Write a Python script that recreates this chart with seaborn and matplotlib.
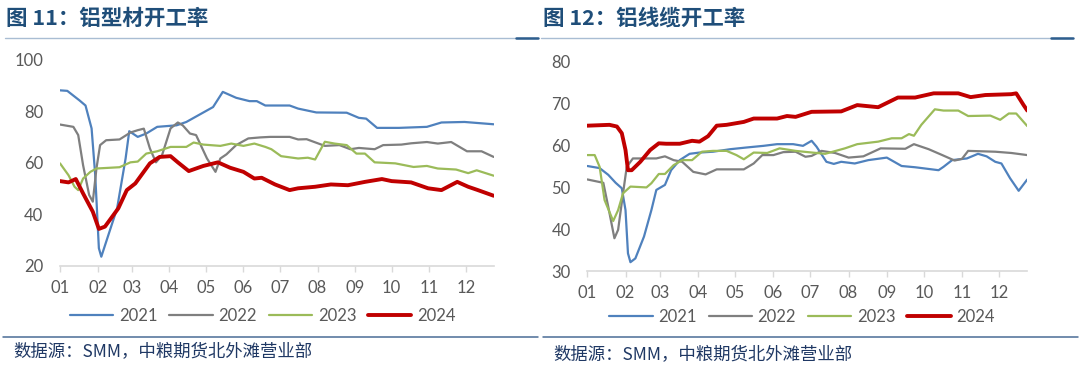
import matplotlib
matplotlib.use("Agg")
import matplotlib.pyplot as plt
from matplotlib.lines import Line2D
import seaborn as sns
import pandas as pd

# ---------------- data (day of year, value) ----------------
years = ["2021", "2022", "2023", "2024"]
month_start_days = [0, 31, 59, 90, 120, 151, 181, 212, 243, 273, 304, 334]
month_labels = ["01", "02", "03", "04", "05", "06", "07", "08", "09", "10", "11", "12"]

# 图11 铝型材开工率
prof_2021_day = [0, 6, 16, 21, 26, 29, 32, 34, 38, 47, 54, 57, 64, 71, 80, 96, 104, 115, 126, 134,
                 145, 156, 162, 169, 189, 196, 211, 236, 246, 252, 261, 279, 302, 314, 333, 357]
prof_2021_val = [88.2, 88, 84.3, 82.3, 73.4, 55.2, 26.8, 23.5, 29.3, 42.3, 61.7, 72.3, 70.1, 71.4, 74, 74.6,
                 75.9, 78.8, 81.7, 87.6, 85.3, 84, 84, 82.3, 82.3, 81.1, 79.6, 79.5, 77.5, 77.2, 73.6, 73.6,
                 74, 75.7, 75.9, 75]
prof_2022_day = [0, 11, 15, 19, 24, 27, 30, 33, 38, 49, 58, 64, 69, 74, 79, 84, 91, 97, 101, 107,
                 112, 121, 128, 132, 137, 145, 155, 165, 173, 189, 196, 203, 218, 230, 239, 246, 259, 266,
                 281, 289, 302, 311, 322, 335, 347, 357]
prof_2022_val = [74.9, 74, 70.8, 59.1, 47.5, 44.9, 57.8, 66.9, 68.8, 69.1, 71.8, 72.7, 73.3, 65.6, 60.2, 63,
                 73.4, 75.7, 74.6, 71.4, 70.8, 61.7, 56.5, 61.7, 63.3, 66.9, 69.5, 69.9, 70.1, 70.1, 69.1,
                 69.2, 66.6, 66.9, 65.3, 65.8, 65.3, 66.9, 67.1, 67.6, 68.1, 67.5, 68.1, 64.5, 64.5, 62.3]
prof_2023_day = [0, 7, 12, 15, 19, 25, 30, 49, 58, 64, 71, 80, 91, 104, 110, 118, 132, 141, 151, 160,
                 169, 174, 182, 196, 204, 210, 218, 226, 236, 244, 251, 259, 276, 291, 302, 311, 326, 336,
                 343, 357]
prof_2023_val = [59.8, 55.2, 50.7, 49.4, 53.9, 56.5, 57.8, 58.3, 60.2, 60.5, 63.6, 64.5, 66.2, 66.2, 67.9,
                 67.1, 66.6, 67.5, 66.6, 67.5, 66.2, 65.3, 62.6, 61.7, 62, 61.3, 68.2, 67.5, 66.9, 63.6,
                 63.6, 60.2, 59.8, 58.4, 58.8, 57.8, 57.4, 56, 57.1, 55]
prof_2024_day = [0, 7, 13, 19, 27, 32, 37, 48, 55, 62, 74, 82, 91, 97, 106, 118, 130, 140, 151, 160,
                 166, 177, 189, 196, 210, 223, 237, 251, 265, 273, 289, 303, 314, 327, 336, 344, 357]
prof_2024_val = [52.9, 52.4, 53.7, 48.1, 41, 34.3, 35.2, 42.3, 49.4, 52, 59.8, 62.3, 62.6, 60.2, 56.8, 58.8,
                 60.2, 58.1, 56.5, 53.9, 54.2, 51.6, 49.4, 50.1, 50.7, 51.6, 51.3, 52.6, 53.7, 52.9, 52.4,
                 50.1, 49.4, 52.6, 50.7, 49.4, 47.2]

# 图12 铝线缆开工率
cable_2021_day = [0, 10, 17, 23, 28, 31, 33, 35, 39, 46, 52, 56, 63, 68, 75, 83, 91, 102, 116, 129,
                  143, 154, 167, 175, 182, 186, 194, 200, 206, 217, 228, 243, 255, 266, 285, 289, 296, 308,
                  317, 324, 331, 336, 343, 350, 357]
cable_2021_val = [55, 54.5, 52.9, 51, 49.7, 44.5, 34.2, 32.1, 33, 38.2, 44.5, 49.3, 50.5, 54, 56.4, 57.9,
                  58.2, 58.4, 59, 59.4, 59.8, 60.2, 60.2, 59.8, 61, 59.6, 56, 55.5, 56, 55.6, 56.4, 57, 55,
                  54.7, 54, 54.8, 56.4, 56.8, 57.9, 57.3, 56, 55.6, 52.1, 49.1, 51.8]
cable_2022_day = [0, 13, 17, 22, 25, 29, 32, 37, 48, 56, 63, 70, 77, 86, 96, 105, 127, 135, 142, 151,
                  159, 169, 177, 182, 190, 201, 212, 224, 238, 258, 265, 277, 288, 298, 304, 309, 331, 344,
                  357]
cable_2022_val = [51.8, 51, 45.3, 37.8, 39.8, 48.5, 54.8, 56.8, 56.8, 56.8, 57.3, 56.4, 56, 53.6, 53, 54.2,
                  54.2, 55.6, 57.6, 57.6, 58.3, 58.4, 57.2, 57.4, 58.6, 58.1, 57, 57.3, 59.2, 59.1, 60.2,
                  59, 57.6, 56.3, 56.7, 58.6, 58.4, 58.1, 57.6]
cable_2023_day = [0, 6, 10, 14, 21, 25, 29, 35, 48, 52, 58, 63, 70, 77, 85, 93, 102, 113, 121, 127,
                  135, 146, 156, 169, 179, 193, 209, 219, 236, 247, 255, 261, 265, 271, 282, 289, 301, 309,
                  327, 335, 342, 348, 357]
cable_2023_val = [57.6, 57.6, 54.8, 46.9, 41.9, 44.5, 48.5, 50.1, 49.9, 50.9, 53.1, 53.1, 55.2, 56.4, 56.4,
                  58.4, 58.6, 58.6, 57.6, 56.6, 58.2, 58.1, 59.2, 58.6, 58.3, 57.9, 59.2, 60.2, 60.8, 61.6,
                  61.6, 62.6, 62.2, 64.8, 68.5, 68.2, 68.2, 66.9, 67, 66, 67.5, 67.5, 64.5]
cable_2024_day = [0, 18, 24, 28, 31, 33, 36, 43, 51, 58, 64, 75, 85, 91, 98, 105, 113, 127, 135, 154,
                  162, 169, 182, 206, 219, 236, 252, 266, 281, 301, 311, 323, 344, 348, 354, 357]
cable_2024_val = [64.6, 64.8, 64.4, 62.8, 58.8, 54, 54, 56, 58.8, 60.4, 60.3, 60.3, 61, 60.8, 62.1, 64.6,
                  64.8, 65.5, 66.3, 66.3, 66.9, 66.7, 67.9, 68, 69.5, 69, 71.3, 71.3, 72.3, 72.3, 71.4,
                  71.9, 72.1, 72.3, 69.5, 68.2]

# ---------------- style ----------------
sns.set_theme(style="white")
plt.rcParams["font.family"] = ["Lato", "Noto Sans CJK SC", "DejaVu Sans"]

colors = {"2021": "#4F81BD", "2022": "#7F7F7F", "2023": "#9BBB59", "2024": "#C00000"}
widths = {"2021": 1.6, "2022": 1.6, "2023": 1.6, "2024": 2.8}
tick_color = "#595959"
title_color = "#1F4E79"

fig = plt.figure(figsize=(10.8, 3.7), dpi=100)
W, H = 1080, 370


def fx(px):
    return px / W


def fy(py):
    return 1 - py / H


def build_df(days, vals):
    rows = []
    for y, d, v in zip(years, days, vals):
        rows.append(pd.DataFrame({"day": d, "value": v, "year": y}))
    return pd.concat(rows, ignore_index=True)


def draw_panel(ax, df, ylim, yticks):
    for y in years:
        sub = df[df["year"] == y]
        sns.lineplot(data=sub, x="day", y="value", ax=ax, color=colors[y], linewidth=widths[y],
                     estimator=None, sort=True, solid_joinstyle="round", solid_capstyle="round")
    ax.set_xlim(0, 357)
    ax.set_ylim(*ylim)
    ax.set_yticks(yticks)
    ax.set_xticks(month_start_days)
    ax.set_xticklabels(month_labels)
    ax.set_xlabel("")
    ax.set_ylabel("")
    for s in ["top", "right", "left"]:
        ax.spines[s].set_visible(False)
    ax.spines["bottom"].set_color("#D9D9D9")
    ax.spines["bottom"].set_linewidth(1.2)
    ax.tick_params(axis="x", colors=tick_color, labelsize=12, length=4, width=1.0,
                   direction="out", pad=6, bottom=True)
    ax.tick_params(axis="x", which="both", color="#D9D9D9")
    ax.tick_params(axis="y", colors=tick_color, labelsize=12, length=0, pad=12)
    ax.grid(False)
    ax.set_facecolor("white")
    leg = ax.get_legend()
    if leg:
        leg.remove()


df_prof = build_df([prof_2021_day, prof_2022_day, prof_2023_day, prof_2024_day],
                   [prof_2021_val, prof_2022_val, prof_2023_val, prof_2024_val])
df_cable = build_df([cable_2021_day, cable_2022_day, cable_2023_day, cable_2024_day],
                    [cable_2021_val, cable_2022_val, cable_2023_val, cable_2024_val])

ax1 = fig.add_axes([fx(60), fy(265.7), fx(493.7 - 60), (265.7 - 60) / H])
ax2 = fig.add_axes([fx(587.3), fy(271), fx(1027.3 - 587.3), (271 - 61) / H])
draw_panel(ax1, df_prof, (20, 100), [20, 40, 60, 80, 100])
draw_panel(ax2, df_cable, (30, 80), [30, 40, 50, 60, 70, 80])

# legends
handles = [Line2D([0], [0], color=colors[y], lw=widths[y]) for y in years]
for cx, cy in [(263, 316), (802, 317)]:
    fig.legend(handles, years, loc="center", bbox_to_anchor=(fx(cx), fy(cy)), ncol=4,
               frameon=False, fontsize=12, handlelength=2.6, handletextpad=0.35,
               columnspacing=0.7, labelcolor=tick_color)

# titles
title_font = ["Noto Sans CJK SC", "DejaVu Sans"]
fig.text(fx(6), fy(18), "图 11：铝型材开工率", family=title_font, fontsize=15.5, fontweight="bold",
         color=title_color, va="center", ha="left")
fig.text(fx(543), fy(18), "图 12：铝线缆开工率", family=title_font, fontsize=15.5, fontweight="bold",
         color=title_color, va="center", ha="left")

# title underlines
for x0, x1 in [(5, 538), (541, 1073)]:
    fig.add_artist(Line2D([fx(x0), fx(x1)], [fy(37.7), fy(37.7)], transform=fig.transFigure,
                          color="#A9BDD3", lw=1.0))
    fig.add_artist(Line2D([fx(x1 - 22), fx(x1)], [fy(37.5), fy(37.5)], transform=fig.transFigure,
                          color="#2E5E8E", lw=1.8))

# bottom rules
for x0, x1 in [(3, 538), (543, 1078)]:
    fig.add_artist(Line2D([fx(x0), fx(x1)], [fy(337.3), fy(337.3)], transform=fig.transFigure,
                          color="#4A6C96", lw=1.1))

# source notes
src = "数据源：SMM，中粮期货北外滩营业部"
fig.text(fx(13), fy(352), src, family=title_font, fontsize=12.5, style="italic",
         color="#1F3864", va="center", ha="left")
fig.text(fx(553), fy(355), src, family=title_font, fontsize=12.5, style="italic",
         color="#1F3864", va="center", ha="left")

fig.savefig("out.png", dpi=100, facecolor="white")
